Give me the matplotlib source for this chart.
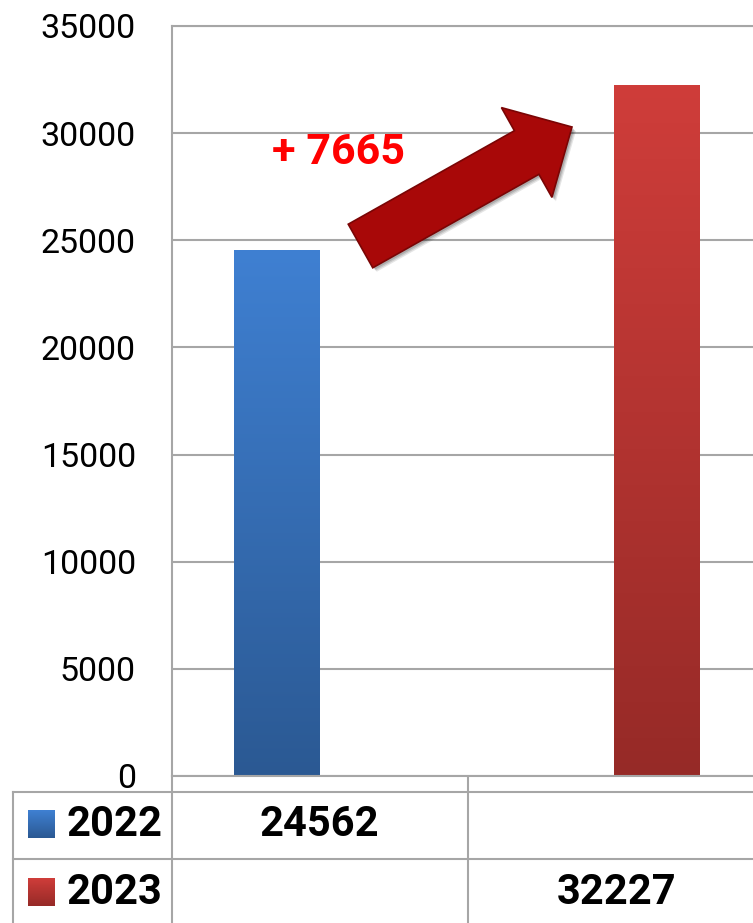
import numpy as np
import matplotlib
matplotlib.use("Agg")
import matplotlib.pyplot as plt
from matplotlib.colors import LinearSegmentedColormap
from matplotlib.lines import Line2D
from matplotlib.patches import FancyArrow
from matplotlib.transforms import IdentityTransform

# data
years = ["2022", "2023"]
values = [24562, 32227]
diff_label = "+ 7665"
yticks = [0, 5000, 10000, 15000, 20000, 25000, 30000, 35000]
# gradient colours (top, bottom)
grad_colors = [("#3F80D2", "#2B5993"), ("#CF3D3A", "#962A27")]

W, H = 753, 923
plt.rcParams['font.family'] = ['Roboto', 'DejaVu Sans']
fig = plt.figure(figsize=(W / 100, H / 100), dpi=100)

def fx(x):
    return x / W

def fy(y):
    return 1 - y / H

grid_c = "#A6A6A6"

ax = fig.add_axes([fx(172), fy(776), fx(W - 172), fy(26) - fy(776)])
xpos = np.arange(len(values))
bw = 0.226
bars = ax.bar(xpos, values, width=bw, color="none", zorder=2)
for bar, (top, bot) in zip(bars, grad_colors):
    cmap = LinearSegmentedColormap.from_list("g", [bot, top])
    grad = np.linspace(0, 1, 256).reshape(-1, 1)
    x0 = bar.get_x()
    im = ax.imshow(grad, extent=[x0, x0 + bar.get_width(), 0, bar.get_height()],
                   origin="lower", aspect="auto", cmap=cmap, zorder=2)
    im.set_clip_path(bar)

ax.set_xlim(-0.276, 1.253)
ax.set_ylim(0, 35000)
ax.set_yticks(yticks)
ax.set_yticklabels([str(t) for t in yticks], fontsize=24.5)
ax.set_xticks([])
ax.tick_params(axis="y", length=0, pad=26)
ax.grid(axis="y", color=grid_c, linewidth=1.5, zorder=0)
ax.set_axisbelow(True)
ax.spines["right"].set_visible(False)
for s in ["left", "top", "bottom"]:
    ax.spines[s].set_color(grid_c)
    ax.spines[s].set_linewidth(1.5)

# data table below the chart
def hline(y, x0, x1):
    fig.add_artist(Line2D([fx(x0), fx(x1)], [fy(y), fy(y)], color=grid_c, lw=1.5))

def vline(x, y0, y1):
    fig.add_artist(Line2D([fx(x), fx(x)], [fy(y0), fy(y1)], color=grid_c, lw=1.5))

hline(792, 13, W)
hline(859, 13, W)
vline(13, 792, H)
vline(172, 776, H)
vline(468, 778, H)

row_y = [824, 892]
col_x = [319, 617]
for i, (yr, v) in enumerate(zip(years, values)):
    top, bot = grad_colors[i]
    cy = row_y[i]
    # legend swatch with gradient
    sw = fig.add_axes([fx(28), fy(cy + 14), fx(27), fy(cy - 14) - fy(cy + 14)])
    sw.imshow(np.linspace(0, 1, 64).reshape(-1, 1), origin="lower", aspect="auto",
              cmap=LinearSegmentedColormap.from_list("s", [bot, top]))
    sw.axis("off")
    fig.text(fx(67), fy(cy), yr, fontsize=30, fontweight="bold", ha="left", va="center")
    fig.text(fx(col_x[i]), fy(cy), f"{v}", fontsize=30, fontweight="bold",
             ha="center", va="center")

# difference label and arrow
fig.text(fx(339), fy(152), diff_label, fontsize=31, fontweight="bold", color="#FF0000",
         ha="center", va="center")

tail = np.array([360.5, 246.0])
tip = np.array([572.0, 127.0])
d = tip - tail
hl = 52
for k, a in [(4, 0.10), (3, 0.12), (2, 0.15)]:
    shadow = FancyArrow(tail[0] + k, H - tail[1] - k, d[0], -d[1], width=50, head_width=103,
                        head_length=hl, length_includes_head=True,
                        transform=IdentityTransform(), color="#000000", alpha=a, lw=0)
    fig.add_artist(shadow)
arrow = FancyArrow(tail[0], H - tail[1], d[0], -d[1], width=50, head_width=103,
                   head_length=hl, length_includes_head=True, transform=IdentityTransform(),
                   facecolor="#A80808", edgecolor="#7A0505", lw=1.2)
fig.add_artist(arrow)

fig.savefig("out.png", dpi=100)
